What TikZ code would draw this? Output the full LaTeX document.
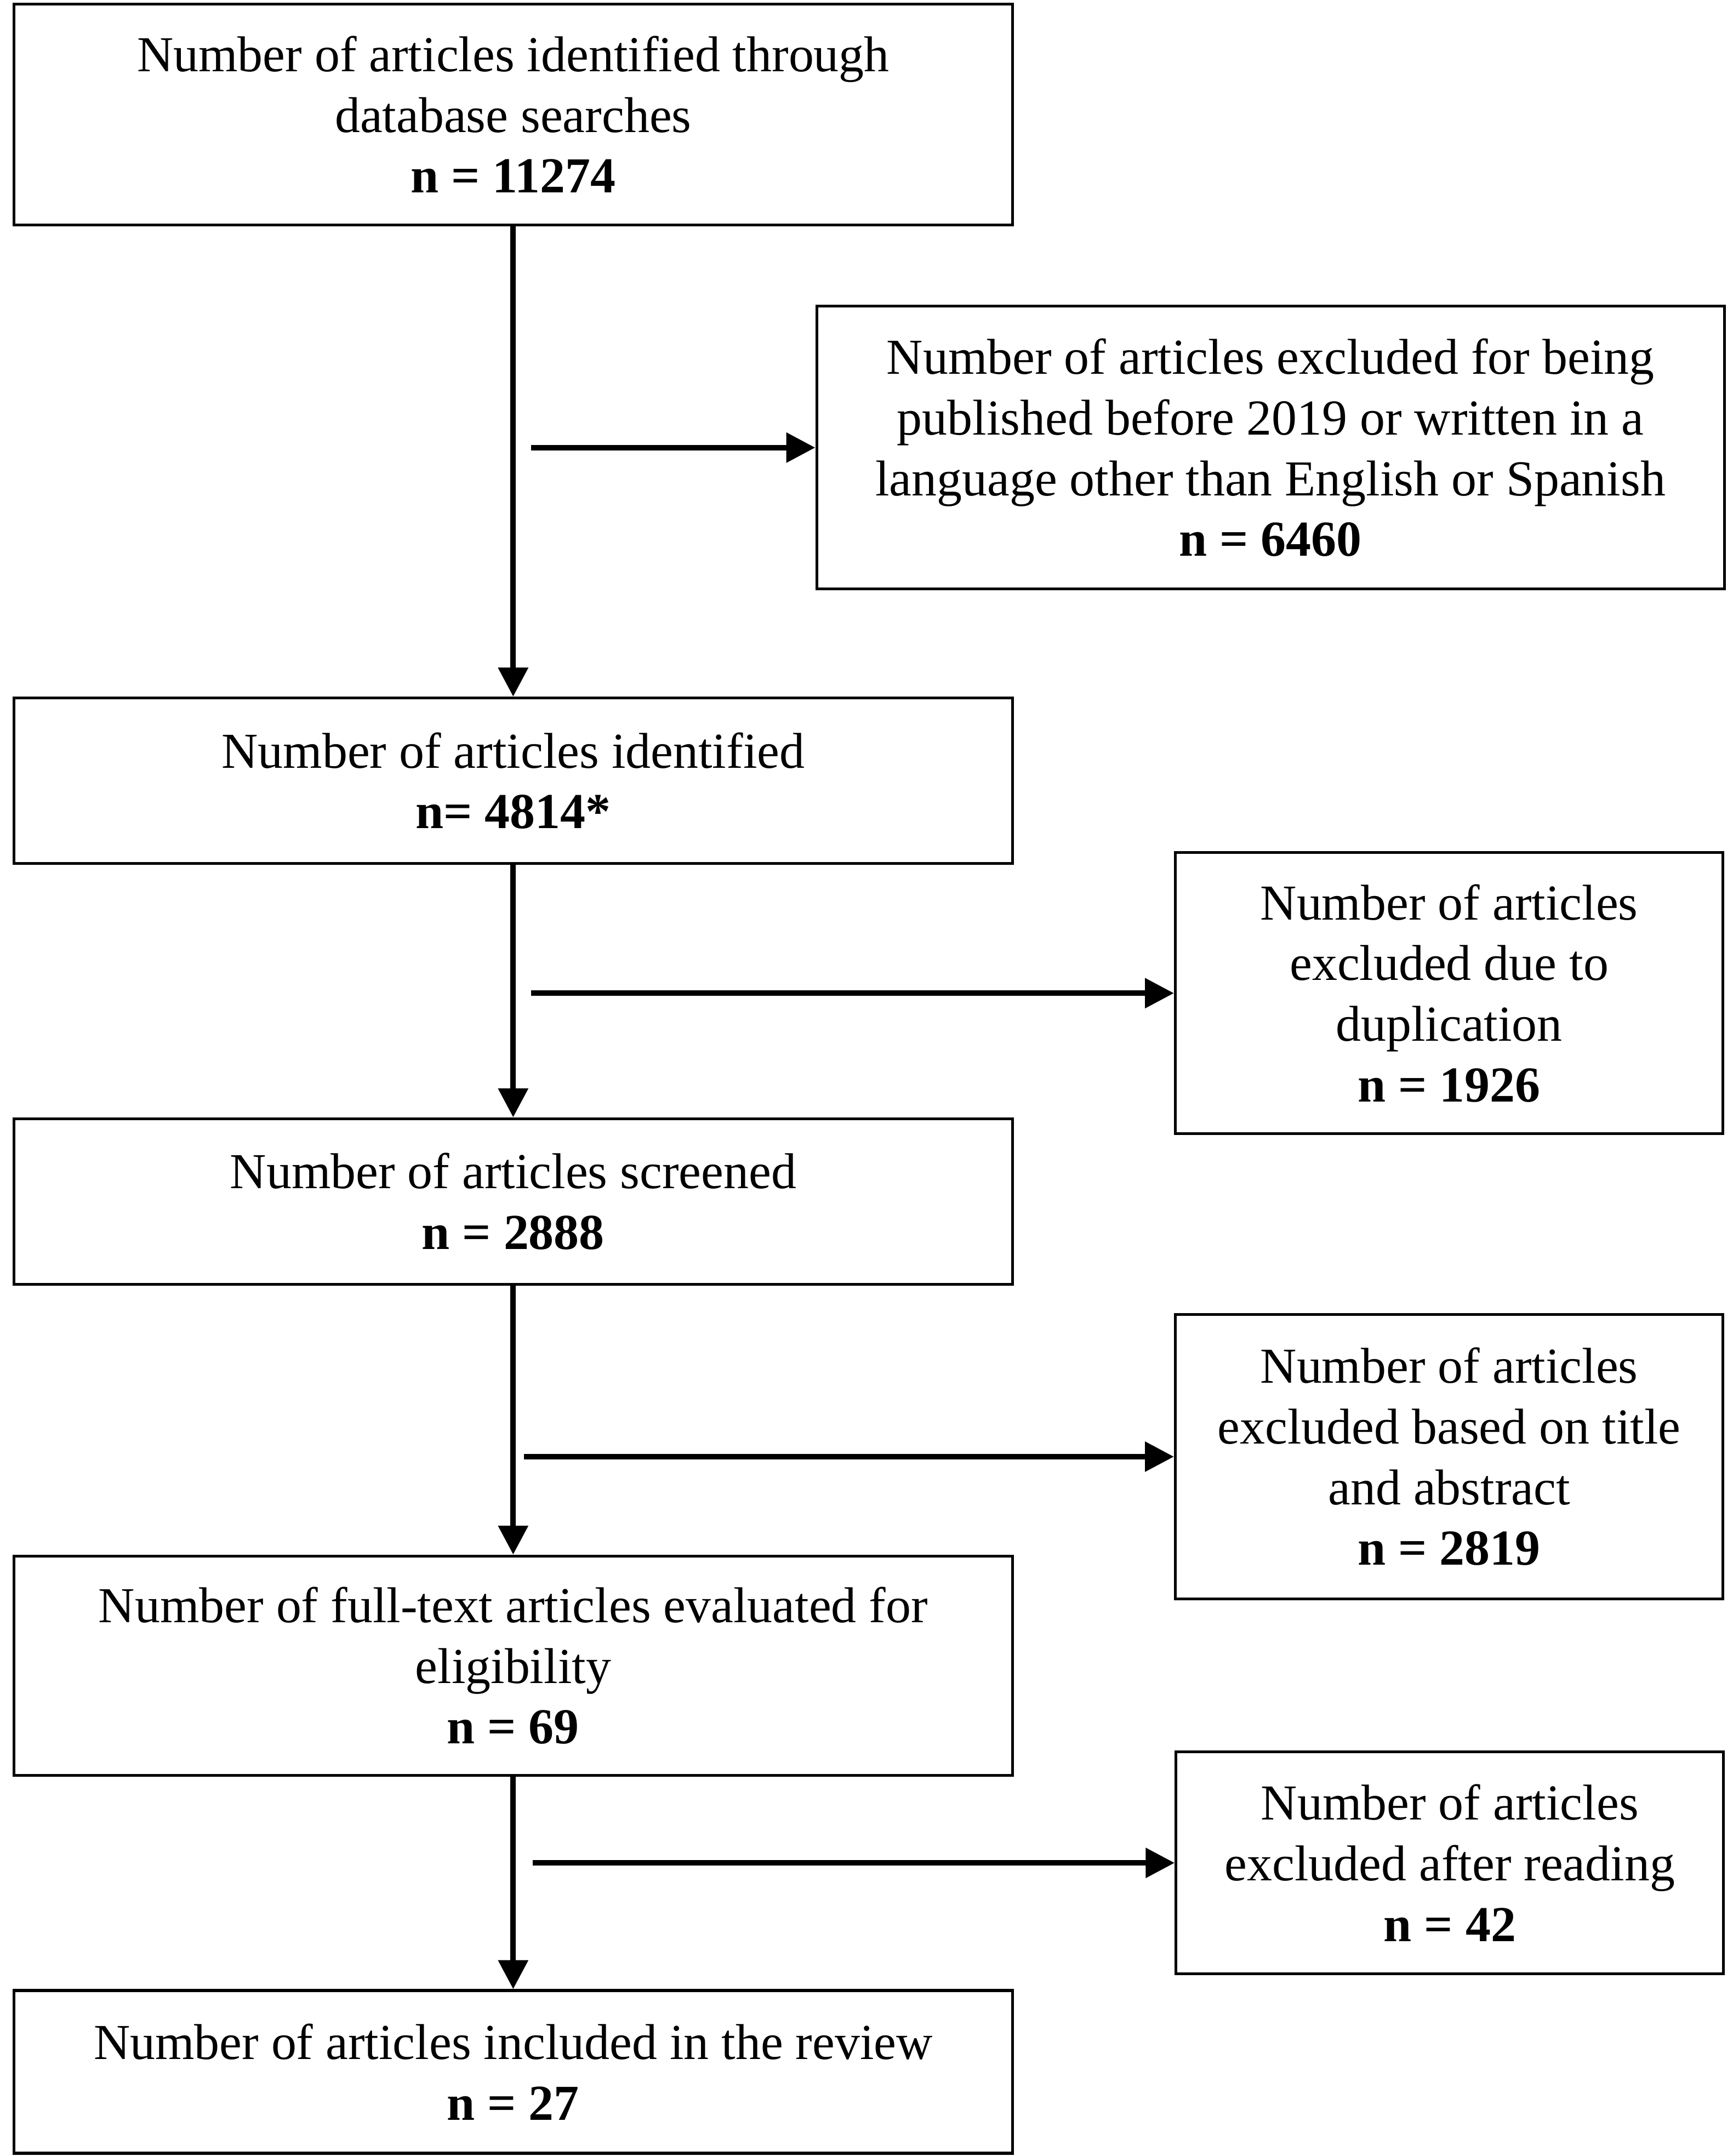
\documentclass[tikz,border=0pt]{standalone}
\usepackage{fontspec}
\setmainfont{Liberation Serif}
\usetikzlibrary{arrows.meta, positioning}

\begin{document}
\begin{tikzpicture}[x=1pt, y=-1pt,
    box/.style={draw, line width=2pt, align=center, inner sep=0pt, font=\fontsize{36.5}{44}\selectfont},
    mainbox/.style={box, minimum width=724pt},
    sidebox/.style={box, minimum width=397pt},
    flow/.style={-{Triangle[length=21pt, width=21pt]}, line width=4pt}]
    \useasboundingbox (0,0) rectangle (1256,1563);

    % Main steps
    \node (search) [mainbox, minimum height=160pt] at (372,83) {Number of articles identified through\\database searches\\\textbf{n = 11274}};
    \node (ident) [mainbox, minimum height=120pt] at (372,566) {Number of articles identified\\\textbf{n= 4814*}};
    \node (screen) [mainbox, minimum height=120pt] at (372,871) {Number of articles screened\\\textbf{n = 2888}};
    \node (full) [mainbox, minimum height=159pt] at (372,1207.5) {Number of full-text articles evaluated for\\eligibility\\\textbf{n = 69}};
    \node (incl) [mainbox, minimum height=118pt] at (372,1502) {Number of articles included in the review\\\textbf{n = 27}};

    % Exclusions
    \node (lang) [box, minimum width=658pt, minimum height=205pt] at (921,324.5) {Number of articles excluded for being\\published before 2019 or written in a\\language other than English or Spanish\\\textbf{n = 6460}};
    \node (dup) [sidebox, minimum height=204pt] at (1050.5,720) {Number of articles\\excluded due to\\duplication\\\textbf{n = 1926}};
    \node (title) [sidebox, minimum height=206pt] at (1050.5,1056) {Number of articles\\excluded based on title\\and abstract\\\textbf{n = 2819}};
    \node (read) [sidebox, minimum height=161pt] at (1051,1350.5) {Number of articles\\excluded after reading\\\textbf{n = 42}};

    % Free ends of the side arrows
    \coordinate (e1) at (385,324.5);
    \coordinate (e2) at (385,720);
    \coordinate (e3) at (380,1056);
    \coordinate (e4) at (386,1350.5);

    % Arrows
    \draw[flow] (search) -- (ident);
    \draw[flow] (ident) -- (screen);
    \draw[flow] (screen) -- (full);
    \draw[flow] (full) -- (incl);
    \draw[flow] (e1) -- (lang.west);
    \draw[flow] (e2) -- (dup.west);
    \draw[flow] (e3) -- (title.west);
    \draw[flow] (e4) -- (read.west);
\end{tikzpicture}
\end{document}
